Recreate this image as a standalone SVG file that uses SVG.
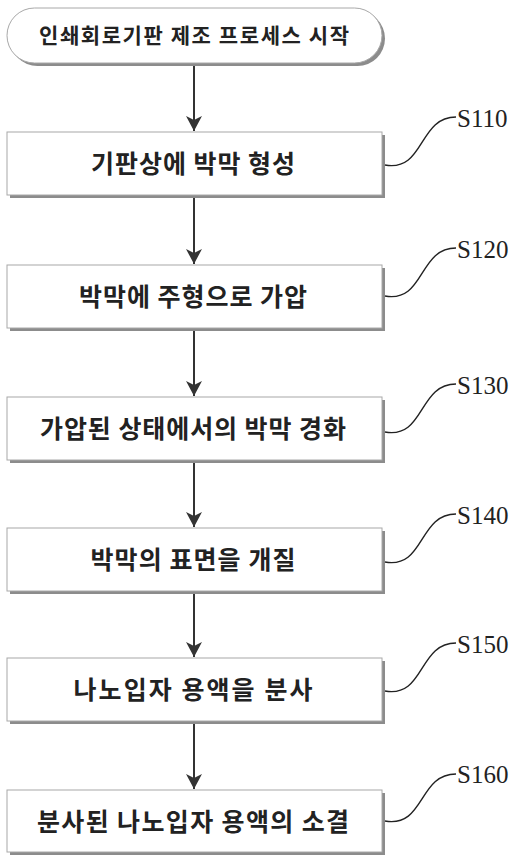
<svg xmlns="http://www.w3.org/2000/svg" width="532" height="855" viewBox="0 0 532 855">
<defs>
<style>
.shadow{fill:#8c8c8c}
.box{fill:#fff;stroke:#a8a8a8;stroke-width:1}
.t{font-family:"Noto Sans CJK KR","Noto Sans",sans-serif;font-weight:bold;font-size:25px;fill:#222;text-anchor:middle}
.title{font-size:21px}
.lbl{font-family:"Liberation Serif",serif;font-size:25px;fill:#222}
.lead{fill:none;stroke:#222;stroke-width:1.4}
.arr{stroke:#333;stroke-width:2;fill:none}
</style>
<marker id="ah" markerUnits="userSpaceOnUse" markerWidth="16" markerHeight="16" viewBox="0 0 16 16" refX="15" refY="8" orient="auto">
<path d="M0,0 L15,8 L0,16 L4,8 Z" fill="#333"/>
</marker>
</defs>
<rect width="532" height="855" fill="#fff"/>

<g id="connectors">
<line class="arr" x1="194" y1="64" x2="194" y2="131" marker-end="url(#ah)"/>
<line class="arr" x1="194" y1="197" x2="194" y2="264" marker-end="url(#ah)"/>
<line class="arr" x1="194" y1="330" x2="194" y2="396" marker-end="url(#ah)"/>
<line class="arr" x1="194" y1="462" x2="194" y2="527" marker-end="url(#ah)"/>
<line class="arr" x1="194" y1="593" x2="194" y2="657" marker-end="url(#ah)"/>
<line class="arr" x1="194" y1="723" x2="194" y2="789" marker-end="url(#ah)"/>
</g>

<g id="start">
<rect class="shadow" x="10" y="11" width="375" height="55" rx="27.5"/>
<rect class="box" x="7" y="8" width="375" height="55" rx="27.5"/>
<text class="t title" x="194" y="43" textLength="310" lengthAdjust="spacing">인쇄회로기판 제조 프로세스 시작</text>
</g>

<g id="s110">
<rect class="shadow" x="10" y="135" width="375" height="63"/>
<rect class="box" x="7" y="132" width="375" height="63"/>
<text class="t" x="193" y="173" textLength="204" lengthAdjust="spacing">기판상에 박막 형성</text>
<path class="lead" d="M385,165 C425,172 418,117 456,117"/>
<text class="lbl" x="457" y="127">S110</text>
</g>

<g id="s120">
<rect class="shadow" x="10" y="268" width="375" height="63"/>
<rect class="box" x="7" y="265" width="375" height="63"/>
<text class="t" x="193" y="306" textLength="228" lengthAdjust="spacing">박막에 주형으로 가압</text>
<path class="lead" d="M385,296 C425,303 418,248 456,248"/>
<text class="lbl" x="457" y="258">S120</text>
</g>

<g id="s130">
<rect class="shadow" x="10" y="400" width="375" height="63"/>
<rect class="box" x="7" y="397" width="375" height="63"/>
<text class="t" x="193" y="438" textLength="306" lengthAdjust="spacing">가압된 상태에서의 박막 경화</text>
<path class="lead" d="M385,432 C425,439 418,384 456,384"/>
<text class="lbl" x="457" y="394">S130</text>
</g>

<g id="s140">
<rect class="shadow" x="10" y="531" width="375" height="63"/>
<rect class="box" x="7" y="528" width="375" height="63"/>
<text class="t" x="193" y="569" textLength="205" lengthAdjust="spacing">박막의 표면을 개질</text>
<path class="lead" d="M385,562 C425,569 418,514 456,514"/>
<text class="lbl" x="457" y="524">S140</text>
</g>

<g id="s150">
<rect class="shadow" x="10" y="661" width="375" height="63"/>
<rect class="box" x="7" y="658" width="375" height="63"/>
<text class="t" x="193" y="699" textLength="239" lengthAdjust="spacing">나노입자 용액을 분사</text>
<path class="lead" d="M385,691 C425,698 418,643 456,643"/>
<text class="lbl" x="457" y="653">S150</text>
</g>

<g id="s160">
<rect class="shadow" x="10" y="793" width="375" height="62"/>
<rect class="box" x="7" y="790" width="375" height="62"/>
<text class="t" x="193" y="831" textLength="312" lengthAdjust="spacing">분사된 나노입자 용액의 소결</text>
<path class="lead" d="M385,821 C425,828 418,774 456,774"/>
<text class="lbl" x="457" y="783">S160</text>
</g>
</svg>
